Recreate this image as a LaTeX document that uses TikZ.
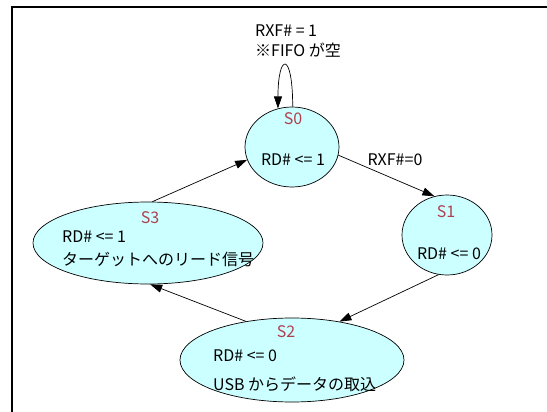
\documentclass[tikz,border=0pt]{standalone}
\usepackage{fontspec}
\setmainfont{Noto Sans CJK JP}
\usetikzlibrary{shapes.geometric, arrows.meta}
\definecolor{statefill}{RGB}{204, 255, 255}
\definecolor{statered}{RGB}{176, 64, 80}

\begin{document}
\begin{tikzpicture}[x=1pt, y=-1pt,
  state/.style={ellipse, draw=black, fill=statefill, line width=0.7pt, inner sep=0pt},
  txt/.style={font=\fontsize{16}{19}\selectfont, inner sep=0pt},
  sname/.style={txt, text=statered},
  trans/.style={-{Triangle[length=12pt, width=8pt]}, line width=0.7pt}]
  \useasboundingbox (0,0) rectangle (547,412);
  \draw[line width=2pt] (12,412) -- (12,7) -- (547,7);

  % states
  \node[state, minimum width=94pt, minimum height=80pt] (s0) at (292,147) {};
  \node[state, minimum width=90pt, minimum height=80pt] (s1) at (447,235) {};
  \node[state, minimum width=224pt, minimum height=84pt] (s2) at (292,360) {};
  \node[state, minimum width=230pt, minimum height=82pt] (s3) at (148,243) {};

  \node[sname] (s0name) at (293,119) {S0};
  \node[txt] (s0out) at (293,160) {RD\# <= 1};
  \node[sname] (s1name) at (446,212) {S1};
  \node[txt] (s1out) at (449,254) {RD\# <= 0};
  \node[sname] (s2name) at (286,332) {S2};
  \node[txt, anchor=west] (s2out) at (213,356) {RD\# <= 0};
  \node[txt, anchor=west] (s2act) at (213,384) {USB からデータの取込};
  \node[sname] (s3name) at (150,218) {S3};
  \node[txt, anchor=west] (s3out) at (62,237) {RD\# <= 1};
  \node[txt, anchor=west] (s3act) at (62,259) {ターゲットへのリード信号};

  % transitions
  \draw[trans] (s0.89) .. controls +(0,-56) and +(0,-56) .. (s0.110);
  \node[txt, anchor=west] (loopcond) at (255,31) {RXF\# = 1};
  \node[txt, anchor=west] (loopnote) at (255,50) {※FIFO が空};
  \draw[trans] (s0.-10) -- (s1.108);
  \node[txt] (s01cond) at (395,160) {RXF\#=0};
  \draw[trans] (s1.-102) -- (s2.39);
  \draw[trans] (s2.140) -- (s3.-87);
  \draw[trans] (s3.84) -- (s0.196);
\end{tikzpicture}
\end{document}
